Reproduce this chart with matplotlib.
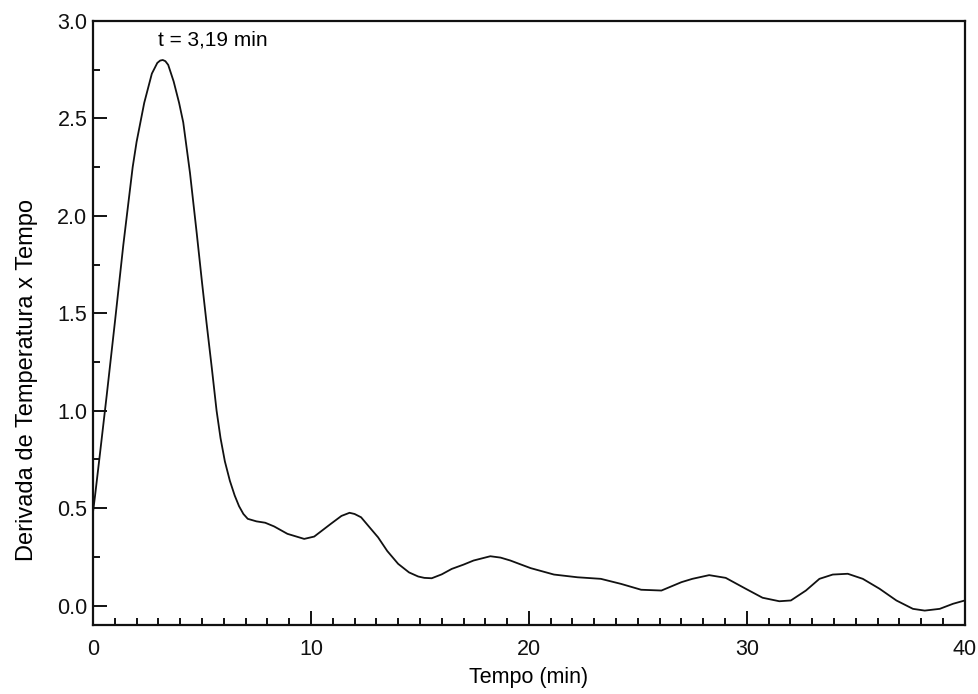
import matplotlib
matplotlib.use("Agg")
import matplotlib.pyplot as plt
from matplotlib.ticker import MultipleLocator

plt.rcParams["font.family"] = ["Liberation Sans", "DejaVu Sans"]

# values (time in min, derivative)
tempo = [0.0, 0.09, 0.32, 0.63, 1.01, 1.39, 1.82, 2.0, 2.35, 2.7, 2.95, 3.08, 3.2,
         3.32, 3.45, 3.7, 3.95, 4.14, 4.45, 4.76, 5.0, 5.21, 5.45, 5.67, 5.85, 6.05,
         6.28, 6.5, 6.7, 6.9, 7.1, 7.5, 7.90, 8.31, 8.92, 9.69, 10.15, 10.92,
         11.40, 11.77, 12.00, 12.30, 12.70, 13.08, 13.50, 14.00, 14.50, 14.92,
         15.20, 15.54, 16.00, 16.46, 17.00, 17.46, 18.23, 18.70, 19.15, 19.60,
         20.08, 21.15, 22.23, 23.30, 24.23, 25.15, 26.08, 27.00, 27.50, 28.27,
         29.03, 29.95, 30.72, 31.49, 32.02, 32.71, 33.33, 33.94, 34.63, 35.32,
         36.09, 36.86, 37.62, 38.16, 38.85, 39.46, 40.0]
derivada = [0.48, 0.56, 0.78, 1.08, 1.46, 1.85, 2.25, 2.38, 2.58, 2.73, 2.785, 2.797, 2.80,
            2.794, 2.775, 2.69, 2.58, 2.48, 2.22, 1.91, 1.66, 1.45, 1.22, 1.00, 0.86, 0.74,
            0.64, 0.565, 0.51, 0.47, 0.445, 0.432, 0.425, 0.406, 0.368, 0.342, 0.354, 0.42,
            0.46, 0.476, 0.47, 0.453, 0.40, 0.35, 0.28, 0.214, 0.17, 0.149,
            0.142, 0.14, 0.16, 0.188, 0.21, 0.231, 0.253, 0.246, 0.231, 0.212,
            0.192, 0.159, 0.145, 0.137, 0.111, 0.081, 0.077, 0.12, 0.137, 0.156,
            0.142, 0.086, 0.040, 0.022, 0.026, 0.077, 0.137, 0.159, 0.163, 0.137,
            0.086, 0.026, -0.017, -0.026, -0.017, 0.009, 0.026]

pico_label = "t = 3,19 min"

fig = plt.figure(figsize=(9.79, 6.94), dpi=100)
ax = fig.add_axes([0.095, 0.0994, 0.8905, 0.8703])

ax.plot(tempo, derivada, color="#111111", linewidth=1.3)
ax.text(5.48, 2.905, pico_label, ha="center", va="center", fontsize=15)

ax.set_xlim(0, 40)
ax.set_ylim(-0.1, 3.0)
ax.xaxis.set_major_locator(MultipleLocator(10))
ax.xaxis.set_minor_locator(MultipleLocator(1))
ax.yaxis.set_major_locator(MultipleLocator(0.5))
ax.yaxis.set_minor_locator(MultipleLocator(0.25))
ax.set_yticks([0.0, 0.5, 1.0, 1.5, 2.0, 2.5, 3.0])
ax.set_yticklabels(["0.0", "0.5", "1.0", "1.5", "2.0", "2.5", "3.0"])

ax.tick_params(which="both", direction="in", top=False, right=False,
               width=1.4, labelsize=15.5, colors="#111111")
ax.tick_params(which="major", length=10)
ax.tick_params(which="minor", length=5)
ax.tick_params(axis="x", which="major", pad=10)
ax.tick_params(axis="y", which="major", pad=4)
for s in ax.spines.values():
    s.set_linewidth(1.6)
    s.set_color("#111111")

ax.set_xlabel("Tempo (min)", fontsize=15.5, labelpad=5)
ax.set_ylabel("Derivada de Temperatura x Tempo", fontsize=17)
ax.yaxis.set_label_coords(-0.063, 0.405)

fig.savefig("out.png", dpi=100)
